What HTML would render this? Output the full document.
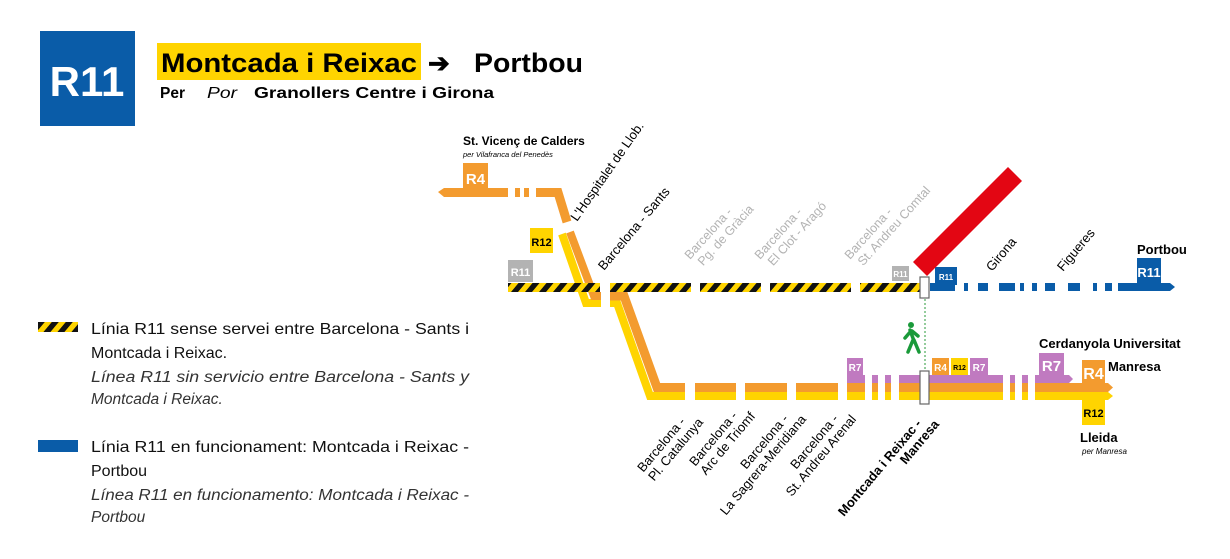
<!DOCTYPE html>
<html><head><meta charset="utf-8"><style>
html,body{margin:0;padding:0;background:#fff;}
svg{display:block;font-family:"Liberation Sans",sans-serif;}
</style></head><body>
<svg width="1230" height="559" viewBox="0 0 1230 559" xmlns="http://www.w3.org/2000/svg">
<defs>
<pattern id="hz" patternUnits="userSpaceOnUse" width="14" height="9" patternTransform="skewX(-40)">
<rect width="14" height="9" fill="#ffd400"/><rect width="7" height="9" fill="#111"/>
</pattern>
</defs>
<!-- header -->
<rect x="40" y="31" width="95" height="95" fill="#0a5ca8"/>
<text x="87" y="96" font-size="42" font-weight="bold" fill="#fff" text-anchor="middle">R11</text>
<rect x="157" y="43" width="264" height="37" fill="#ffd400"/>
<text x="161" y="72" font-size="27" font-weight="bold" fill="#000" textLength="256" lengthAdjust="spacingAndGlyphs">Montcada i Reixac</text>
<text x="428" y="72" font-size="26" font-weight="bold" fill="#000">➔</text>
<text x="474" y="72" font-size="27" font-weight="bold" fill="#000" textLength="109" lengthAdjust="spacingAndGlyphs">Portbou</text>
<text x="160" y="98" font-size="16" font-weight="bold" textLength="25" lengthAdjust="spacingAndGlyphs">Per</text>
<text x="207" y="98" font-size="16" font-style="italic" textLength="30" lengthAdjust="spacingAndGlyphs">Por</text>
<text x="254" y="98" font-size="16" font-weight="bold" textLength="240" lengthAdjust="spacingAndGlyphs">Granollers Centre i Girona</text>

<!-- legend -->
<rect x="38" y="322" width="40" height="10" fill="url(#hz)"/>
<text font-size="16" fill="#111"><tspan x="91" y="334" textLength="378" lengthAdjust="spacingAndGlyphs">Línia R11 sense servei entre Barcelona - Sants i</tspan><tspan x="91" y="358">Montcada i Reixac.</tspan></text>
<text font-size="15.5" font-style="italic" fill="#333"><tspan x="91" y="382" textLength="378" lengthAdjust="spacingAndGlyphs">Línea R11 sin servicio entre Barcelona - Sants y</tspan><tspan x="91" y="404">Montcada i Reixac.</tspan></text>
<rect x="38" y="440" width="40" height="12" fill="#0a5ca8"/>
<text font-size="16" fill="#111"><tspan x="91" y="452" textLength="378" lengthAdjust="spacingAndGlyphs">Línia R11 en funcionament: Montcada i Reixac -</tspan><tspan x="91" y="476">Portbou</tspan></text>
<text font-size="15.5" font-style="italic" fill="#333"><tspan x="91" y="500" textLength="378" lengthAdjust="spacingAndGlyphs">Línea R11 en funcionamento: Montcada i Reixac -</tspan><tspan x="91" y="522">Portbou</tspan></text>

<!-- upper orange R4 line -->
<rect x="463" y="163" width="25" height="26" fill="#f39b2f"/>
<text x="475.5" y="184" font-size="15" font-weight="bold" fill="#fff" text-anchor="middle">R4</text>
<polygon points="438,192 444,188 508,188 508,197 444,197" fill="#f39b2f"/>
<rect x="515" y="188" width="5" height="9" fill="#f39b2f"/>
<rect x="524" y="188" width="5" height="9" fill="#f39b2f"/>
<polyline points="536,192.5 558,192.5 567,222" fill="none" stroke="#f39b2f" stroke-width="9"/>

<!-- diagonal yellow/orange to lower line -->
<polyline points="562,234 586,303 601,303" fill="none" stroke="#ffd400" stroke-width="8"/>
<polyline points="570,232 594,296 601,296" fill="none" stroke="#f39b2f" stroke-width="8"/>
<polyline points="610,303 617,303 650,396 685,396" fill="none" stroke="#ffd400" stroke-width="8"/>
<polyline points="610,296 624,296 657,387.5 685,387.5" fill="none" stroke="#f39b2f" stroke-width="9"/>
<rect x="530" y="228" width="23" height="25" fill="#ffd400"/>
<text x="541.5" y="246" font-size="11" font-weight="bold" text-anchor="middle">R12</text>
<rect x="508" y="260" width="25" height="22" fill="#b3b3b3"/>
<text x="520.5" y="276" font-size="11" font-weight="bold" fill="#fff" text-anchor="middle">R11</text>

<!-- hazard line -->
<rect x="508" y="283" width="92" height="9" fill="url(#hz)"/>
<rect x="610" y="283" width="81" height="9" fill="url(#hz)"/>
<rect x="700" y="283" width="61" height="9" fill="url(#hz)"/>
<rect x="770" y="283" width="81" height="9" fill="url(#hz)"/>
<rect x="860" y="283" width="60" height="9" fill="url(#hz)"/>
<rect x="892" y="266" width="17" height="15" fill="#b3b3b3"/>
<text x="900.5" y="277" font-size="8" font-weight="bold" fill="#fff" text-anchor="middle">R11</text>

<!-- blue line -->
<g fill="#0a5ca8">
<rect x="930" y="283" width="25" height="8"/>
<rect x="935" y="267" width="22" height="18"/>
<rect x="964" y="283" width="4" height="8"/>
<rect x="978" y="283" width="10" height="8"/>
<rect x="999" y="283" width="16" height="8"/>
<rect x="1020" y="283" width="4" height="8"/>
<rect x="1032" y="283" width="5" height="8"/>
<rect x="1045" y="283" width="10" height="8"/>
<rect x="1068" y="283" width="12" height="8"/>
<rect x="1093" y="283" width="4" height="8"/>
<rect x="1105" y="283" width="7" height="8"/>
<polygon points="1118,283 1170,283 1175,287 1170,291 1118,291"/>
<rect x="1137" y="258" width="24" height="27"/>
</g>
<text x="946" y="280" font-size="8" font-weight="bold" fill="#fff" text-anchor="middle">R11</text>
<text x="1149" y="277" font-size="13" font-weight="bold" fill="#fff" text-anchor="middle">R11</text>
<text x="1137" y="254" font-size="13" font-weight="bold">Portbou</text>

<!-- red bar -->
<polygon points="913,262 927,276 1022,181 1008,167" fill="#e30613"/>

<!-- lower lines -->
<g>
<rect x="695" y="383" width="41" height="9" fill="#f39b2f"/><rect x="695" y="392" width="41" height="8" fill="#ffd400"/>
<rect x="745" y="383" width="42" height="9" fill="#f39b2f"/><rect x="745" y="392" width="42" height="8" fill="#ffd400"/>
<rect x="796" y="383" width="42" height="9" fill="#f39b2f"/><rect x="796" y="392" width="42" height="8" fill="#ffd400"/>
</g>
<g>
<rect x="847" y="375" width="18" height="8" fill="#c07ac0"/><rect x="847" y="383" width="18" height="9" fill="#f39b2f"/><rect x="847" y="392" width="18" height="8" fill="#ffd400"/>
<rect x="872" y="375" width="6" height="8" fill="#c07ac0"/><rect x="872" y="383" width="6" height="9" fill="#f39b2f"/><rect x="872" y="392" width="6" height="8" fill="#ffd400"/>
<rect x="885" y="375" width="6" height="8" fill="#c07ac0"/><rect x="885" y="383" width="6" height="9" fill="#f39b2f"/><rect x="885" y="392" width="6" height="8" fill="#ffd400"/>
<rect x="899" y="375" width="104" height="8" fill="#c07ac0"/><rect x="899" y="383" width="104" height="9" fill="#f39b2f"/><rect x="899" y="392" width="104" height="8" fill="#ffd400"/>
<rect x="1010" y="375" width="5" height="8" fill="#c07ac0"/><rect x="1010" y="383" width="5" height="9" fill="#f39b2f"/><rect x="1010" y="392" width="5" height="8" fill="#ffd400"/>
<rect x="1022" y="375" width="6" height="8" fill="#c07ac0"/><rect x="1022" y="383" width="6" height="9" fill="#f39b2f"/><rect x="1022" y="392" width="6" height="8" fill="#ffd400"/>
<polygon points="1035,375 1069,375 1073,379 1069,383 1035,383" fill="#c07ac0"/>
<polygon points="1035,383 1108,383 1113,387.5 1108,392 1035,392" fill="#f39b2f"/>
<polygon points="1035,392 1108,392 1113,396 1108,400 1035,400" fill="#ffd400"/>
<rect x="1039" y="353" width="25" height="23" fill="#c07ac0"/>
<text x="1051.5" y="371" font-size="15" font-weight="bold" fill="#fff" text-anchor="middle">R7</text>
<rect x="1082" y="360" width="23" height="24" fill="#f39b2f"/>
<text x="1093.5" y="379" font-size="16" font-weight="bold" fill="#fff" text-anchor="middle">R4</text>
<rect x="1082" y="400" width="23" height="25" fill="#ffd400"/>
<text x="1093.5" y="417" font-size="11" font-weight="bold" text-anchor="middle">R12</text>
<rect x="847" y="358" width="16" height="17" fill="#c07ac0"/>
<text x="855" y="371" font-size="10" font-weight="bold" fill="#fff" text-anchor="middle">R7</text>
<rect x="932" y="358" width="17" height="17" fill="#f39b2f"/>
<text x="940.5" y="371" font-size="10" font-weight="bold" fill="#fff" text-anchor="middle">R4</text>
<rect x="951" y="358" width="17" height="17" fill="#ffd400"/>
<text x="959.5" y="370" font-size="7" font-weight="bold" text-anchor="middle">R12</text>
<rect x="970" y="358" width="18" height="17" fill="#c07ac0"/>
<text x="979" y="371" font-size="10" font-weight="bold" fill="#fff" text-anchor="middle">R7</text>
</g>
<rect x="920" y="371" width="9" height="33" fill="#fff" stroke="#666" stroke-width="1.2"/>
<rect x="920" y="277" width="9" height="21" fill="#fff" stroke="#666" stroke-width="1.2"/>
<line x1="925" y1="299" x2="925" y2="370" stroke="#2a9a3a" stroke-width="1" stroke-dasharray="2,2"/>
<!-- walker -->
<g fill="#1a9a3a" stroke="#1a9a3a">
<circle cx="911" cy="325" r="3" stroke="none"/>
<path d="M910 330 L914 341 M911 331 L905 338 M912 331 L918 336 M913 340 L908 352 M914 340 L919 352" stroke-width="3.5" fill="none" stroke-linecap="round"/>
</g>

<text x="1039" y="348" font-size="13" font-weight="bold">Cerdanyola Universitat</text>
<text x="1108" y="371" font-size="13" font-weight="bold">Manresa</text>
<text x="1080" y="442" font-size="13" font-weight="bold">Lleida</text>
<text x="1082" y="454" font-size="8" font-style="italic">per Manresa</text>
<text x="463" y="145" font-size="12" font-weight="bold">St. Vicenç de Calders</text>
<text x="463" y="157" font-size="7.5" font-style="italic">per Vilafranca del Penedès</text>

<!-- top rotated labels -->
<g font-size="13">
<text transform="translate(577,222) rotate(-55)">L'Hospitalet de Llob.</text>
<text transform="translate(604,271) rotate(-50)">Barcelona - Sants</text>
<text transform="translate(992,272) rotate(-50)">Girona</text>
<text transform="translate(1063,272) rotate(-50)">Figueres</text>
</g>
<g font-size="12.5" fill="#b3b3b3">
<text transform="translate(690,260) rotate(-48)"><tspan x="0" y="0">Barcelona -</tspan><tspan x="4" y="14">Pg. de Gràcia</tspan></text>
<text transform="translate(760,260) rotate(-48)"><tspan x="0" y="0">Barcelona -</tspan><tspan x="4" y="14">El Clot - Aragó</tspan></text>
<text transform="translate(850,260) rotate(-48)"><tspan x="0" y="0">Barcelona -</tspan><tspan x="4" y="14">St. Andreu Comtal</tspan></text>
</g>
<!-- bottom rotated labels -->
<g font-size="13" text-anchor="end">
<text transform="translate(686,422) rotate(-50)"><tspan x="0" y="0">Barcelona -</tspan><tspan x="11" y="14">Pl. Catalunya</tspan></text>
<text transform="translate(738,416) rotate(-50)"><tspan x="0" y="0">Barcelona -</tspan><tspan x="11" y="14">Arc de Triomf</tspan></text>
<text transform="translate(789,419) rotate(-50)"><tspan x="0" y="0">Barcelona -</tspan><tspan x="11" y="14">La Sagrera-Meridiana</tspan></text>
<text transform="translate(839,419) rotate(-50)"><tspan x="0" y="0">Barcelona -</tspan><tspan x="11" y="14">St. Andreu Arenal</tspan></text>
<text transform="translate(922,424) rotate(-50)" font-weight="bold"><tspan x="0" y="0">Montcada i Reixac -</tspan><tspan x="11" y="14">Manresa</tspan></text>
</g>
</svg>
</body></html>
